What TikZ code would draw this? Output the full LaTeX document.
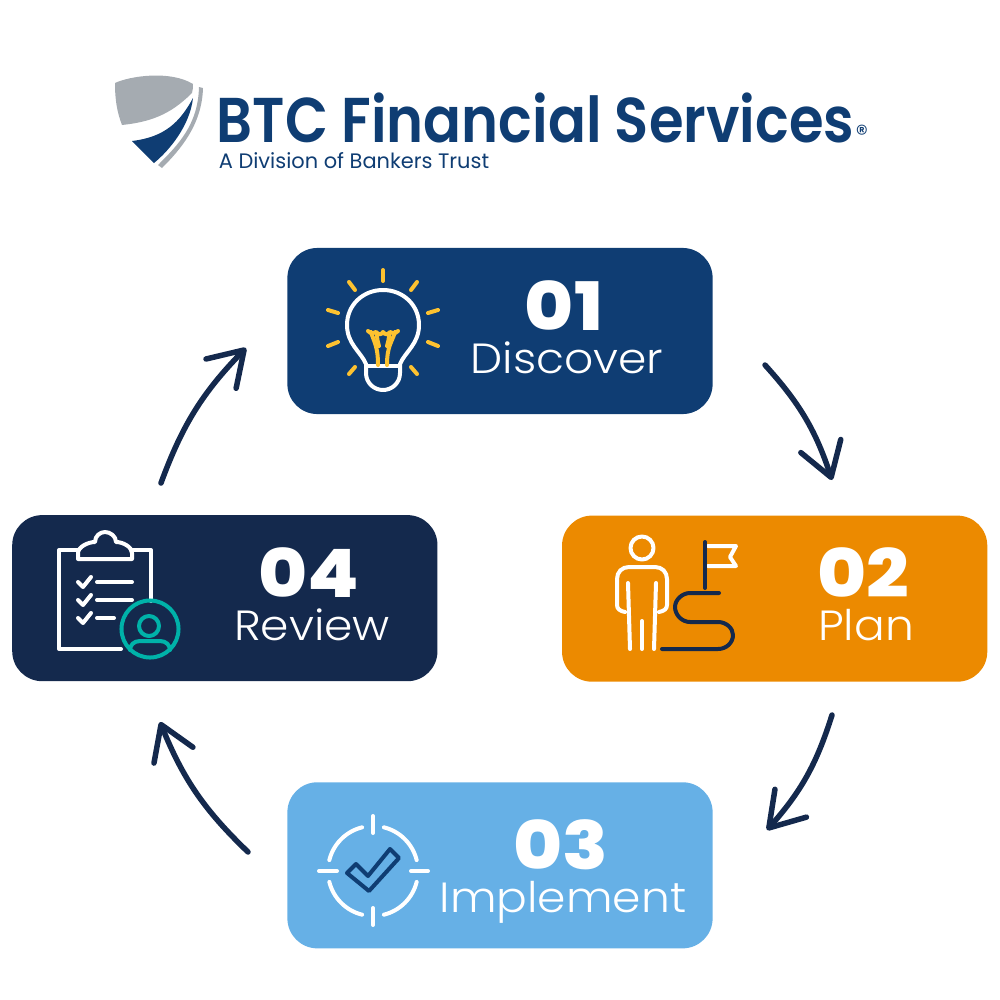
\documentclass[tikz,border=0pt]{standalone}
\usepackage{fontspec}
\setmainfont{Poppins}
\newfontfamily\brandfont[FakeStretch=0.885]{Poppins SemiBold}
\newfontfamily\numfont[FakeStretch=1.12]{Poppins ExtraBold}
\newfontfamily\labelfont[FakeStretch=1.08]{Poppins Light}
\usetikzlibrary{positioning,arrows.meta}

\definecolor{btcblue}{HTML}{0F3D73}
\definecolor{btcnavy}{HTML}{14294D}
\definecolor{btcorange}{HTML}{EC8A00}
\definecolor{btcsky}{HTML}{66B0E6}
\definecolor{btcgray}{HTML}{A5ABB1}
\definecolor{btcyellow}{HTML}{FDC230}
\definecolor{btcteal}{HTML}{00B2A9}

\tikzset{
  stagebox/.style={minimum width=4.25cm,minimum height=1.66cm,rounded corners=0.3cm,inner sep=0pt,outer sep=0pt},
  numtext/.style={text=white,inner sep=0pt,anchor=base,font=\fontsize{19}{19}\numfont},
  stagetext/.style={text=white,inner sep=0pt,anchor=base,font=\fontsize{12}{12}\labelfont},
  flow/.style={btcnavy,line width=0.055cm,line cap=round,-{Straight Barb[length=0.33cm,width=0.42cm,round]}},
  iconline/.style={line width=0.04cm,line cap=round,line join=round},
}

\begin{document}
\begin{tikzpicture}[x=0.01cm,y=-0.01cm]

  \useasboundingbox (0,0) rectangle (1000,1000);

  \fill[btcgray] (115,83) .. controls (130,76) and (170,70) .. (193,84) .. controls (193,87) and (193,90) .. (192,93)
    .. controls (170,115) and (150,122) .. (122,125) .. controls (117,112) and (115,100) .. (115,83) -- cycle;
  \fill[btcblue] (193,98) .. controls (180,122) and (165,137) .. (132,141) -- (154,163) .. controls (170,150) and (190,125) .. (193,98) -- cycle;
  \fill[btcgray] (199,87) -- (203,88) .. controls (202,125) and (180,150) .. (162,168) -- (158,165) .. controls (178,145) and (198,125) .. (199,87) -- cycle;

  \node[text=btcblue,inner sep=0pt,anchor=base,font=\fontsize{18}{18}\brandfont] (brand) at (535.5,142) {BTC Financial Services};
  \node[text=btcblue,inner sep=0pt,font=\fontsize{7}{7}\selectfont] (regmark) [right=0pt of brand.base east,anchor=base west] {®};
  \node[text=btcblue,inner sep=0pt,anchor=base,font=\fontsize{5.95}{5.95}\selectfont] (division) at (354,168) {A Division of Bankers Trust};

  \node[stagebox,fill=btcblue] (discover) at (500,331) {};
  \node[stagebox,fill=btcorange] (plan) [below right=1.015cm and -1.505cm of discover] {};
  \node[stagebox,fill=btcsky] (implement) [below left=1.005cm and -1.505cm of plan] {};
  \node[stagebox,fill=btcnavy] (review) [above left=1.01cm and -1.5cm of implement] {};

  \node[numtext] (num1) at (564,330) {01};
  \node[stagetext] (label1) at (567,373) {Discover};
  \node[numtext] (num2) at (863,597) {02};
  \node[stagetext] (label2) at (866,640) {Plan};
  \node[numtext] (num3) at (561,869) {03};
  \node[stagetext] (label3) at (563,912) {Implement};
  \node[numtext] (num4) at (309,597) {04};
  \node[stagetext] (label4) at (312,640) {Review};

  \coordinate (a1) at (765,365);
  \coordinate (b1) at (832,480);
  \coordinate (a2) at (832,715);
  \coordinate (b2) at (767,830);
  \coordinate (a3) at (248,852);
  \coordinate (b3) at (160,722);
  \coordinate (a4) at (161,483);
  \coordinate (b4) at (246,348);

  \path[flow] (a1) edge[bend left=12] (b1);
  \path[flow] (a2) edge[bend left=12] (b2);
  \path[flow] (a3) edge[bend left=12] (b3);
  \path[flow] (a4) edge[bend left=12] (b4);

  % bulb
  \draw[iconline,white] (366,364) .. controls (361,352) and (347,344) .. (347,325) .. controls (347,305) and (363,290) .. (383,290)
    .. controls (403,290) and (419,305) .. (419,325) .. controls (419,344) and (405,352) .. (400,364) -- (400,373)
    .. controls (400,383) and (392,390) .. (383,390) .. controls (374,390) and (366,383) .. (366,373) -- cycle;
  \draw[iconline,white] (367,366) -- (399,366);
  \foreach \xa/\ya/\xb/\yb in {383/270/383/281,349/282/355/290,417/282/411/290,328/310/338/313,438/310/428/313,328/346/338/342,438/346/428/342,349/374/355/367,417/374/411/367}
    \draw[iconline,btcyellow] (\xa,\ya) -- (\xb,\yb);
  \draw[iconline,btcyellow] (368,331) .. controls (371,334) and (374,334) .. (376,332) .. controls (379,335) and (381,335) .. (383,332)
    .. controls (385,335) and (388,335) .. (390,332) .. controls (392,334) and (395,334) .. (398,331);
  \draw[iconline,btcyellow] (371,332) .. controls (374,342) and (378,346) .. (378,365);
  \draw[iconline,btcyellow] (395,332) .. controls (392,342) and (387,346) .. (387,365);
  \draw[iconline,btcyellow] (377,334) .. controls (377,340) and (378,342) .. (379,346);
  \draw[iconline,btcyellow] (389,334) .. controls (389,340) and (388,342) .. (387,346);

  % person and flag
  \draw[iconline,white] (642,548) circle[radius=0.115cm];
  \draw[iconline,white] (625,612) .. controls (620,611) and (617,609) .. (617,605) -- (617,579) .. controls (617,572) and (622,567) .. (629,567)
    -- (655,567) .. controls (662,567) and (667,572) .. (667,579) -- (667,605) .. controls (667,609) and (664,611) .. (659,612);
  \draw[iconline,white] (628,583) -- (630,649);
  \draw[iconline,white] (656,583) -- (654,649);
  \draw[iconline,white] (642,621) -- (642,649);
  \draw[iconline,white] (708,546) -- (736,546) -- (730,557) -- (736,566) -- (708,566);
  \draw[iconline,btcnavy] (705,542) -- (705,588);
  \draw[iconline,btcnavy] (719,593) -- (690,593) .. controls (682,593) and (675,600) .. (675,607) .. controls (675,615) and (682,622) .. (690,622)
    -- (718,622) .. controls (726,622) and (733,628) .. (733,635) .. controls (733,643) and (726,649) .. (718,649) -- (662,649);

  % target
  \foreach \rot in {0,90,180,270} {
    \draw[iconline,white] (373,871) ++(\rot+14:0.45cm) arc[start angle=\rot+14,end angle=\rot+76,radius=0.45cm];
  }
  \draw[iconline,white] (373,816) -- (373,833);
  \draw[iconline,white] (373,908) -- (373,925);
  \draw[iconline,white] (319,871) -- (337,871);
  \draw[iconline,white] (411,871) -- (428,871);
  \draw[iconline,btcblue] (356,864) -- (347,873) -- (369,891) -- (399,858) -- (390,849) -- (368,876) -- cycle;

  % clipboard
  \draw[iconline,white] (78,550) -- (59,550) -- (59,649) -- (121,649);
  \draw[iconline,white] (132,550) -- (151,550) -- (151,601);
  \draw[iconline,white] (78,559) -- (78,553) .. controls (78,547) and (88,542) .. (95,542) .. controls (95,536) and (100,532) .. (105,532)
    .. controls (110,532) and (116,536) .. (116,542) .. controls (123,542) and (132,547) .. (132,553) -- (132,559) -- cycle;
  \foreach \yy in {582,600} {
    \draw[iconline,white] (78,\yy) -- (83,\yy+5) -- (91,\yy-5);
    \draw[iconline,white] (97,\yy) -- (132,\yy);
  }
  \draw[iconline,white] (78,618) -- (83,623) -- (91,613);
  \draw[iconline,white] (97,618) -- (114,618);
  \draw[iconline,btcteal] (150,629) circle[radius=0.285cm];
  \draw[iconline,btcteal] (149,626) circle[radius=0.1cm];
  \draw[iconline,btcteal] (130,650) .. controls (130,645) and (134,641) .. (140,641) -- (160,641) .. controls (166,641) and (170,645) .. (170,650);

\end{tikzpicture}
\end{document}
